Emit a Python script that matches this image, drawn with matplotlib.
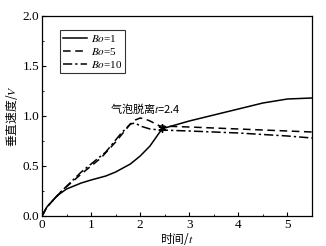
import matplotlib
matplotlib.use("Agg")
import matplotlib.pyplot as plt
import numpy as np

plt.rcParams['font.family'] = ['Liberation Serif', 'Noto Sans CJK SC']
plt.rcParams['mathtext.fontset'] = 'stix'

t1 = [0, 0.1, 0.3, 0.5, 0.8, 1.0, 1.3, 1.5, 1.8, 2.0, 2.2, 2.4, 2.5, 3.0, 3.5, 4.0, 4.5, 5.0, 5.5]
v1 = [0, 0.09, 0.2, 0.27, 0.33, 0.36, 0.40, 0.44, 0.52, 0.60, 0.70, 0.84, 0.88, 0.95, 1.01, 1.07, 1.13, 1.17, 1.18]

t5 = [0, 0.1, 0.4, 0.8, 1.0, 1.2, 1.5, 1.8, 1.9, 2.0, 2.1, 2.2, 2.4, 3.0, 4.0, 5.0, 5.5]
v5 = [0, 0.09, 0.25, 0.42, 0.50, 0.58, 0.74, 0.92, 0.96, 0.98, 0.97, 0.95, 0.90, 0.89, 0.87, 0.85, 0.84]

t10 = [0, 0.1, 0.4, 0.8, 1.0, 1.3, 1.6, 1.8, 1.9, 2.0, 2.2, 2.4, 3.0, 4.0, 5.0, 5.5]
v10 = [0, 0.09, 0.25, 0.44, 0.52, 0.64, 0.82, 0.92, 0.93, 0.90, 0.87, 0.86, 0.85, 0.83, 0.80, 0.78]

labels = ['$Bo$=1', '$Bo$=5', '$Bo$=10']
detach_t, detach_v = 2.45, 0.88

fig = plt.figure(figsize=(3.26, 2.46), dpi=100)
ax = fig.add_axes([42/326, 30/246, 270/326, 200/246])

ax.plot(t1, v1, color='black', lw=1.1, ls='-', label=labels[0])
ax.plot(t5, v5, color='black', lw=1.1, ls=(0, (5, 3)), label=labels[1])
ax.plot(t10, v10, color='black', lw=1.1, ls=(0, (6, 2, 1.5, 2)), label=labels[2])
ax.plot([detach_t], [detach_v], marker=(6, 2, 0), color='black', ms=6, mew=1.0)

ax.text(1.38, 1.07, '气泡脱离$t$=2.4', fontsize=8, family=['Noto Sans CJK SC', 'DejaVu Sans'], va='center')

ax.set_xlim(0, 5.5)
ax.set_ylim(0, 2.0)
ax.set_xticks([0, 1, 2, 3, 4, 5])
ax.set_xticks(np.arange(0, 5.6, 0.5), minor=True)
ax.set_yticks([0.0, 0.5, 1.0, 1.5, 2.0])
ax.set_yticks(np.arange(0, 2.01, 0.25), minor=True)
ax.set_yticklabels(['0.0', '0.5', '1.0', '1.5', '2.0'])
ax.tick_params(direction='in', length=3, labelsize=9.5, pad=2)
ax.tick_params(which='minor', direction='in', length=1.5)
for s in ax.spines.values():
    s.set_linewidth(0.9)
ax.set_xlabel('时间/$t$', fontsize=8.5, family=['Noto Sans CJK SC', 'DejaVu Sans'], labelpad=0)
ax.set_ylabel('垂直速度/$V$', fontsize=8.5, family=['Noto Sans CJK SC', 'DejaVu Sans'], labelpad=2)

leg = ax.legend(loc='upper left', bbox_to_anchor=(0.065, 0.93), fontsize=8, frameon=True,
                fancybox=False, edgecolor='black', handlelength=2.2, handletextpad=0.3,
                labelspacing=0.15, borderpad=0.3, borderaxespad=0)
leg.get_frame().set_linewidth(0.8)

fig.savefig('out.png', dpi=100)
